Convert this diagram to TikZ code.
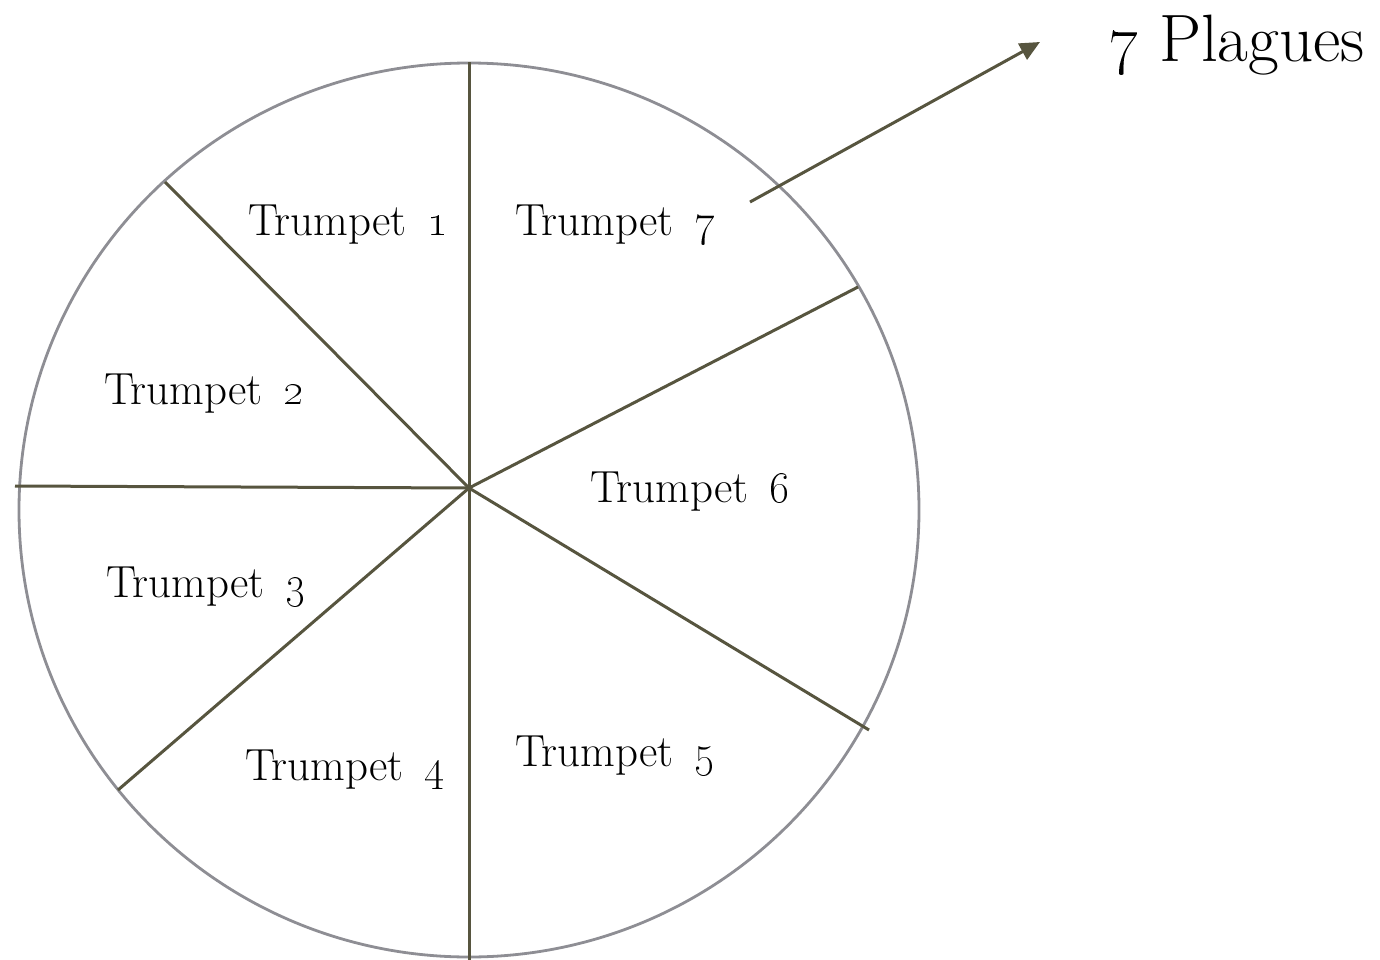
\documentclass[tikz,border=0pt]{standalone}
\usetikzlibrary{arrows.meta}
\definecolor{spoke}{HTML}{57553F}
\definecolor{rim}{HTML}{8E8E94}
\newcommand{\osf}[2]{\scalebox{#1}{\fontsize{24.88}{30}\selectfont\oldstylenums{#2}}}
\newcommand{\tnum}[1]{\hspace{0.45em}\osf{1.8}{#1}}
\tikzset{
  spokeline/.style={draw=spoke, line width=3pt},
  rimline/.style={draw=rim, line width=2.8pt},
  trumpetlabel/.style={anchor=base west, inner sep=0pt, font=\fontsize{45}{54}\selectfont},
  plaguelabel/.style={anchor=base west, inner sep=0pt, font=\fontsize{67}{78}\selectfont},
}
\begin{document}
\begin{tikzpicture}[x=1pt,y=-1pt]
\useasboundingbox (0,0) rectangle (1380,960);
% rim
\draw[rimline] (469,510) ellipse [x radius=450, y radius=447];
% hub and spoke ends
\coordinate (hub) at (469,488);
\coordinate (e1) at (469,62);
\coordinate (e2) at (469,960);
\coordinate (e3) at (165,182);
\coordinate (e4) at (15,486);
\coordinate (e5) at (118,790);
\coordinate (e6) at (858,287);
\coordinate (e7) at (869,730);
\foreach \e in {e1,e2,e3,e4,e5,e6,e7}{\draw[spokeline] (hub) -- (\e);}
% labels
\node[trumpetlabel] (t1) at (248,235) {Trumpet\tnum{1}};
\node[trumpetlabel] (t2) at (104,404) {Trumpet\tnum{2}};
\node[trumpetlabel] (t3) at (106,597) {Trumpet\tnum{3}};
\node[trumpetlabel] (t4) at (245,780) {Trumpet\tnum{4}};
\node[trumpetlabel] (t5) at (515,766) {Trumpet\tnum{5}};
\node[trumpetlabel] (t6) at (590,502) {Trumpet\tnum{6}};
\node[trumpetlabel] (t7) at (515,235) {Trumpet\tnum{7}};
\node[plaguelabel] (pl) at (1108,62) {\osf{2.7}{7} Plagues};
% arrow
\coordinate (as) at (750,202);
\coordinate (ae) at (1040,42);
\draw[spokeline, -{Triangle[length=20pt,width=18pt]}] (as) -- (ae);
\end{tikzpicture}
\end{document}
